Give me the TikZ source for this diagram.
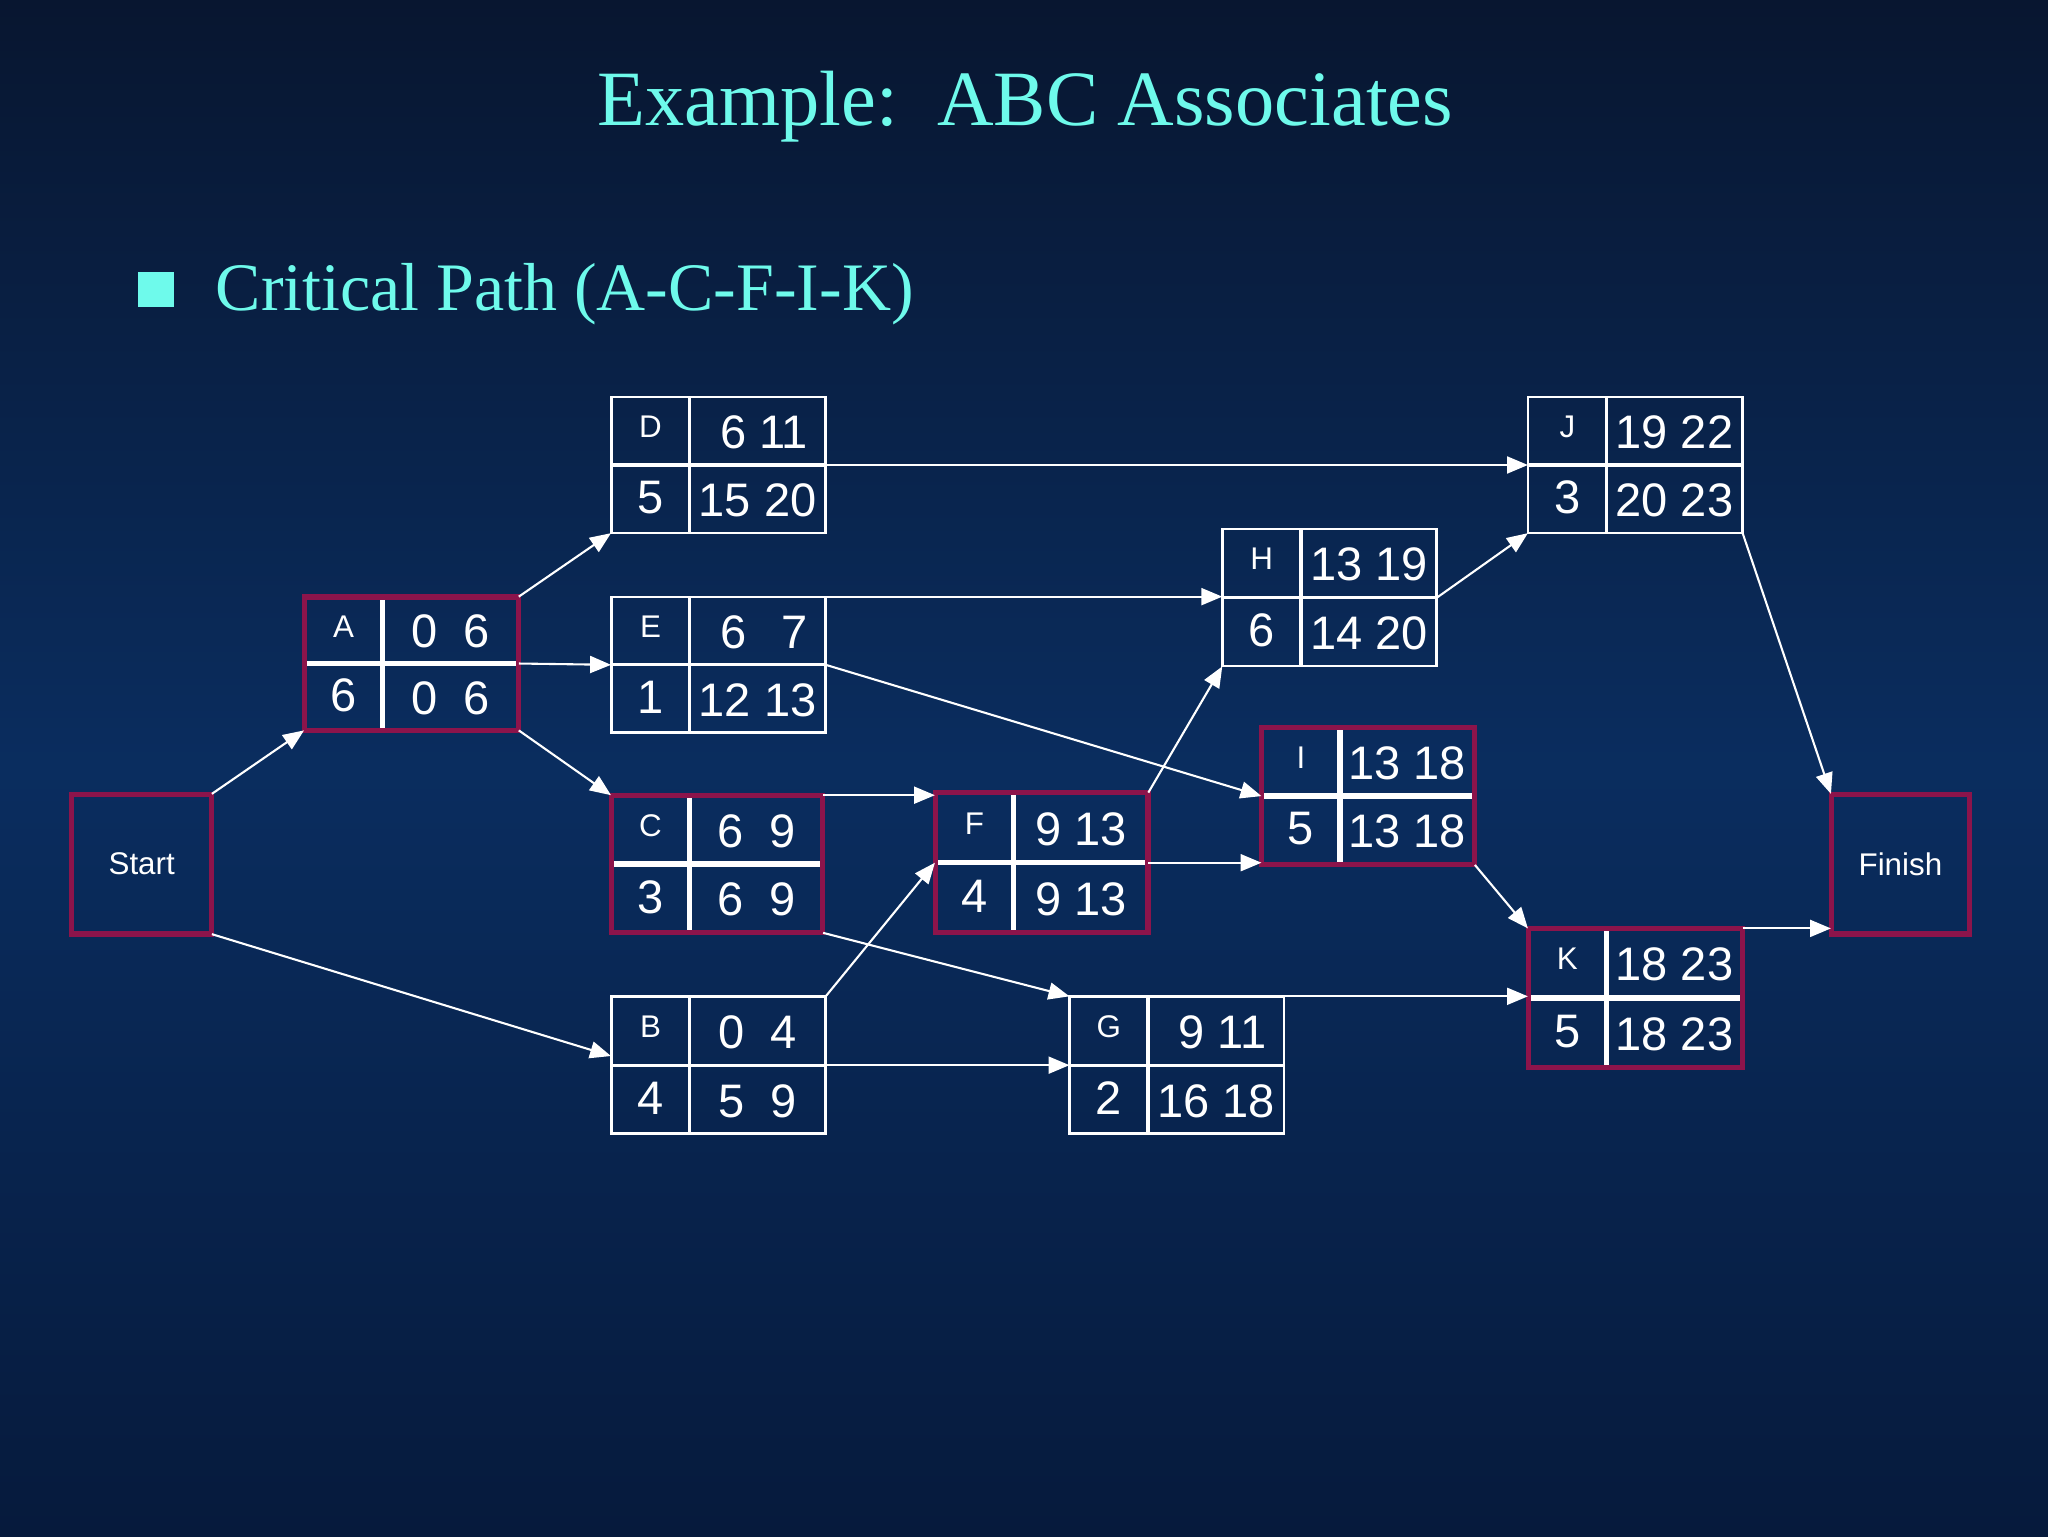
\documentclass[tikz,border=0pt]{standalone}
\usepackage{fontspec}
\setmainfont{Liberation Serif}
\setsansfont{Liberation Sans}
\usetikzlibrary{arrows.meta,calc}
\definecolor{titlec}{RGB}{110,250,235}
\definecolor{crit}{RGB}{140,20,75}
\definecolor{bgtop}{RGB}{8,22,48}
\definecolor{bgmid}{RGB}{10,45,95}
\definecolor{bgbot}{RGB}{6,26,60}
\tikzset{
  conn/.style={white,line width=1.6pt,-{Triangle[length=16pt,width=13pt]}},
  num/.style={font=\sffamily\fontsize{36}{36}\selectfont,white,inner sep=0},
  lett/.style={font=\sffamily\fontsize{24}{24}\selectfont,white,inner sep=0},
}
\newcommand\actbox[9]{%
  \node[rectangle,inner sep=0,minimum width={(#4-#2)*1pt},minimum height={(#5-#3)*1pt}] (#1) at ({(#2+#4)/2},{(#3+#5)/2}) {};
  \draw[white,line width=\dw] ({#2+60},#3) -- ({#2+60},#5);
  \draw[white,line width=\dw] (#2,{(#3+#5)/2}) -- (#4,{(#3+#5)/2});
  \draw[\bcol,line width=\bw] (#2,#3) rectangle (#4,#5);
  \node[lett] at ({#2+30},{#3+(#5-#3)*0.22}) {#6};
  \node[num] at ({#2+30},{#3+(#5-#3)*0.74}) {#7};
  \node[num] at ({(#2+60+#4)/2},{#3+(#5-#3)*0.26}) {#8};
  \node[num] at ({(#2+60+#4)/2},{#3+(#5-#3)*0.76}) {#9};
}
\newcommand\normalstyle{\def\bcol{white}\def\bw{2pt}\def\dw{2.5pt}}
\newcommand\critstyle{\def\bcol{crit}\def\bw{4pt}\def\dw{4pt}}
\begin{document}
\begin{tikzpicture}[x=1pt,y=-1pt]
\shade[top color=bgtop,bottom color=bgbot,middle color=bgmid] (0,0) rectangle (1568,1176);
\useasboundingbox (0,0) rectangle (1568,1176);
\node[font=\fontsize{60}{60}\selectfont,titlec] (title) at (785,82) {Example:\ \ ABC Associates};
\fill[titlec] (106,208) rectangle (133,235);
\node[font=\fontsize{52}{52}\selectfont,titlec,anchor=west,inner sep=0] (sub) at (165,225) {Critical Path (A-C-F-I-K)};

\critstyle
\draw[crit,line width=4pt] (55,608) rectangle (162,715);
\node[lett,minimum width=107pt,minimum height=107pt] (Start) at (108.5,661.5) {Start};
\draw[crit,line width=4pt] (1402,608) rectangle (1508,715);
\node[lett,minimum width=106pt,minimum height=107pt] (Finish) at (1455,661.5) {Finish};

\critstyle
\actbox{A}{233}{457}{397}{559}{A}{6}{0\ \ 6}{0\ \ 6}
\actbox{C}{468}{609}{630}{714}{C}{3}{6\ \ 9}{6\ \ 9}
\actbox{F}{716}{607}{879}{714}{F}{4}{9 13}{9 13}
\actbox{I}{966}{557}{1129}{662}{I}{5}{13 18}{13 18}
\actbox{K}{1170}{711}{1334}{817}{K}{5}{18 23}{18 23}
\normalstyle
\actbox{D}{468}{304}{632}{408}{D}{5}{\ 6 11}{15 20}
\actbox{E}{468}{457}{632}{561}{E}{1}{\ 6\ \ \,7}{12 13}
\actbox{B}{468}{763}{632}{868}{B}{4}{0\ \ 4}{5\ \ 9}
\actbox{G}{819}{763}{983}{868}{G}{2}{\ 9 11}{16 18}
\actbox{H}{936}{405}{1100}{510}{H}{6}{13 19}{14 20}
\actbox{J}{1170}{304}{1334}{408}{J}{3}{19 22}{20 23}

\draw[conn] (Start.north east) -- (A.south west);
\draw[conn] (Start.south east) -- ([yshift=7pt]B.west);
\draw[conn] (A.north east) -- (D.south west);
\draw[conn] (A.east) -- (E.west);
\draw[conn] (A.south east) -- (C.north west);
\draw[conn] (D.east) -- (D.east -| J.west);
\draw[conn] (E.north east) -- (E.north east -| H.west);
\draw[conn] (E.east) -- (I.west);
\draw[conn] (C.north east) -- (C.north east -| F.west);
\draw[conn] (C.south east) -- (G.north west);
\draw[conn] (B.north east) -- (F.west);
\draw[conn] (B.east) -- (G.west);
\draw[conn] (F.north east) -- (H.south west);
\draw[conn] (F.east) -- (F.east -| I.west);
\draw[conn] (G.north east) -- (G.north east -| K.west);
\draw[conn] (H.east) -- (J.south west);
\draw[conn] (I.south east) -- (K.north west);
\draw[conn] (J.south east) -- (Finish.north west);
\draw[conn] (K.north east) -- (K.north east -| Finish.west);
\end{tikzpicture}
\end{document}
